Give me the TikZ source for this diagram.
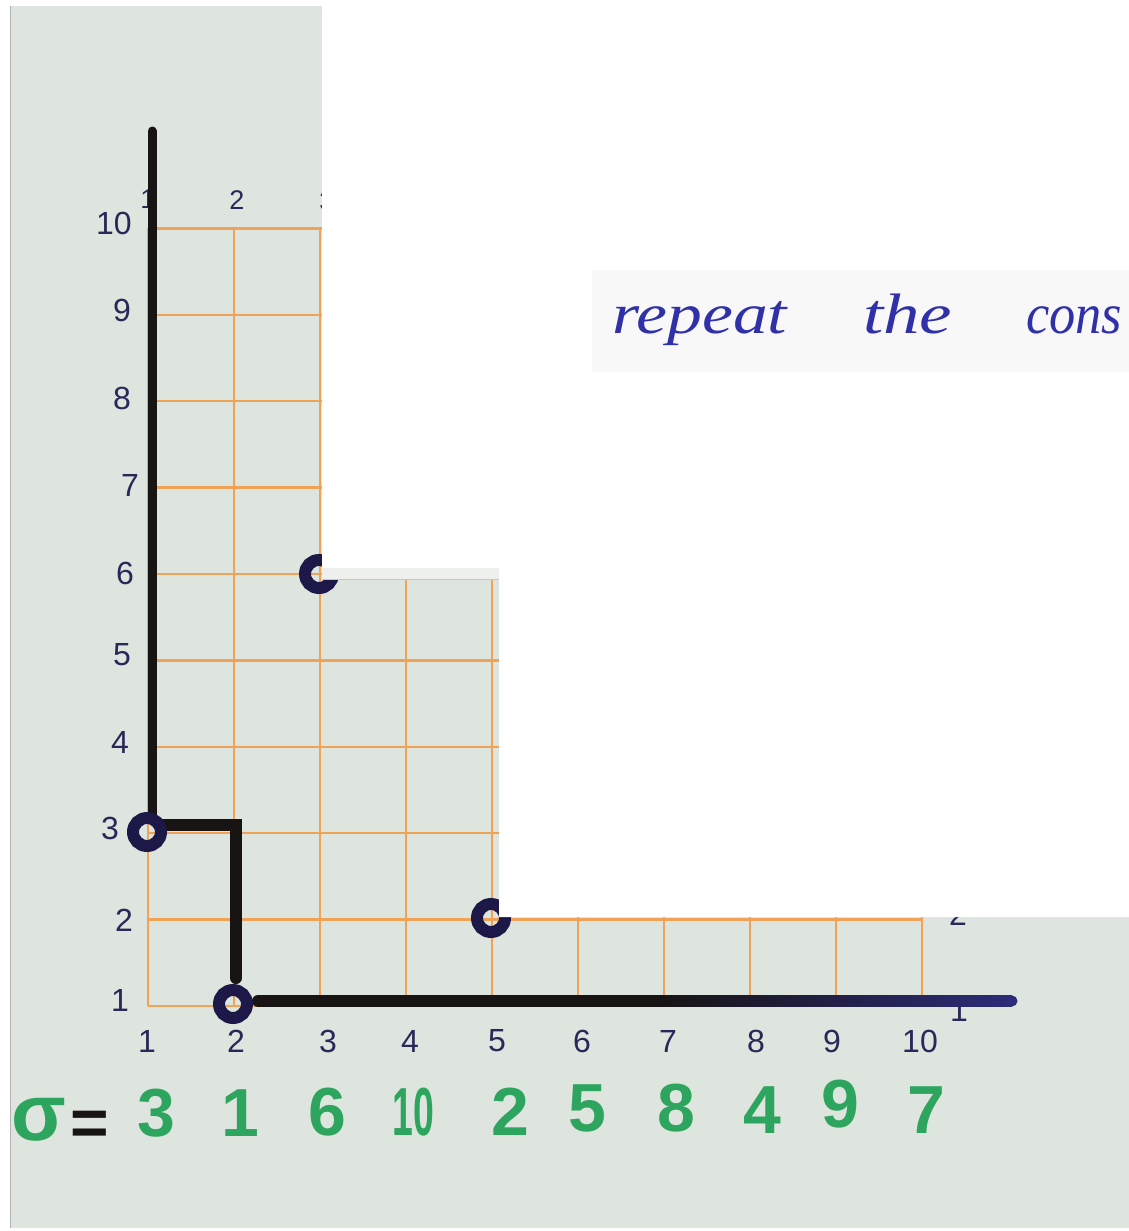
\documentclass[tikz,border=0pt]{standalone}
\usepackage{fontspec}
\usepackage{graphicx}
\setmainfont{Liberation Sans}
\newfontfamily\handfont{Liberation Serif}
\definecolor{paper}{HTML}{DEE4DE}
\definecolor{gridor}{HTML}{F0A256}
\definecolor{marker}{HTML}{181414}
\definecolor{ringc}{HTML}{1C1848}
\definecolor{navyline}{HTML}{2C2C78}
\definecolor{ink}{HTML}{2A2858}
\definecolor{sgreen}{HTML}{2EA55E}
\definecolor{pen}{HTML}{3030A8}
\definecolor{stripc}{HTML}{EEF0EE}
\definecolor{stripedge}{HTML}{C4C6DC}
\definecolor{boxc}{HTML}{F8F8F8}
\begin{document}
\begin{tikzpicture}[x=1pt,y=-1pt,
  gridline/.style={draw=gridor, line width=2.4pt},
  markerline/.style={draw=marker},
  ringmark/.style={draw=ringc, line width=12pt},
  axlabel/.style={text=ink, inner sep=0pt, font=\fontsize{32}{32}\selectfont},
  toplabel/.style={text=ink, inner sep=0pt, font=\fontsize{27}{27}\selectfont},
  permdigit/.style={text=sgreen, inner sep=0pt, font=\fontsize{68}{68}\selectfont\bfseries},
  handword/.style={text=pen, inner sep=0pt, anchor=base west, font=\handfont\itshape\fontsize{57}{57}\selectfont}]
\useasboundingbox (0,0) rectangle (1129,1231);
% page and paper
\fill[white] (0,0) rectangle (1129,1231);
\fill[paper] (10,6) rectangle (1129,1228);
\draw[gray!60, line width=1pt] (10,6) -- (10,1228);
% grid coordinates
\foreach \i in {1,...,10}{
  \foreach \j in {1,...,10}{
    \coordinate (g\i-\j) at ({148+86*(\i-1)},{1006-86.4*(\j-1)});
  }
}
% orange grid
\foreach \i in {1,...,10} \draw[gridline] (g\i-1) -- (g\i-10);
\foreach \j in {1,...,10} \draw[gridline] (g1-\j) -- (g10-\j);
% axis labels
\foreach \j/\yy/\xx in {1/1000/120, 2/920/124, 3/828/110, 4/742/120, 5/655/122,
                         6/573/125, 7/485/130, 8/398/122, 9/310/122, 10/223/114}
  \node[axlabel] (row\j) at (\xx,\yy) {\j};
\foreach \i/\xx in {1/147, 2/236, 3/328, 4/410, 5/497, 6/582, 7/668, 8/756, 9/832, 10/920}
  \node[axlabel] (col\i) at (\xx,1041) {\i};
\node[toplabel] (top1) at (148,199) {1};
\node[toplabel] (top2) at (237,200) {2};
\node[toplabel] (top3) at (327,201) {3};
\node[axlabel] (right1) at (959,1010) {1};
\node[axlabel] (right2) at (958,914) {2};
% black marker path
\draw[markerline, line width=9pt, line cap=round] (152,131) -- (152,818);
\draw[markerline, line width=12pt, line cap=round, line join=miter] (160,825) -- (236,825) -- (236,978);
\draw[markerline, line width=12pt, line cap=round] (258,1001) -- (660,1001);
\shade[left color=marker, right color=navyline] (660,995.5) rectangle (1012,1006.5);
\fill[navyline] (1012,1001) circle[radius=5.5pt];
% rings
\draw[ringmark] (147,832) circle[radius=14pt];
\draw[ringmark] (233,1004) circle[radius=14pt];
\draw[ringmark] (319,574) circle[radius=14pt];
\draw[ringmark] (491,918) circle[radius=14pt];
% permutation
\node[text=sgreen, inner sep=0pt, font=\fontsize{80}{80}\selectfont\bfseries] (sigma) at (39,1120) {σ};
\node[text=marker, inner sep=0pt, font=\fontsize{66}{66}\selectfont\bfseries] (eq) at (90,1128) {=};
\foreach \n/\xx/\yy in {3/156/1113, 1/240/1113, 6/327/1112, 2/510/1112, 5/587/1108,
                        8/676/1108, 4/762/1110, 9/840/1104, 7/926/1110}
  \node[permdigit] (p\n) at (\xx,\yy) {\n};
\node[permdigit] (p10) at (413,1112) {\scalebox{0.55}[1]{10}};
% white overlay
\fill[white] (322,0) -- (1129,0) -- (1129,917) -- (499,917) -- (499,568) -- (322,568) -- cycle;
\fill[stripc] (322,568) rectangle (499,579);
\draw[stripedge, line width=0.8pt] (322,579) -- (499,579);
% text box
\fill[boxc] (592,270) rectangle (1129,372);
\node[handword] (w1) at (612,333) {\scalebox{1.22}[1]{repeat}};
\node[handword] (w2) at (863,333) {\scalebox{1.28}[1]{the}};
\node[handword] (w3) at (1026,333) {\scalebox{0.92}[1]{cons}};
\end{tikzpicture}
\end{document}
